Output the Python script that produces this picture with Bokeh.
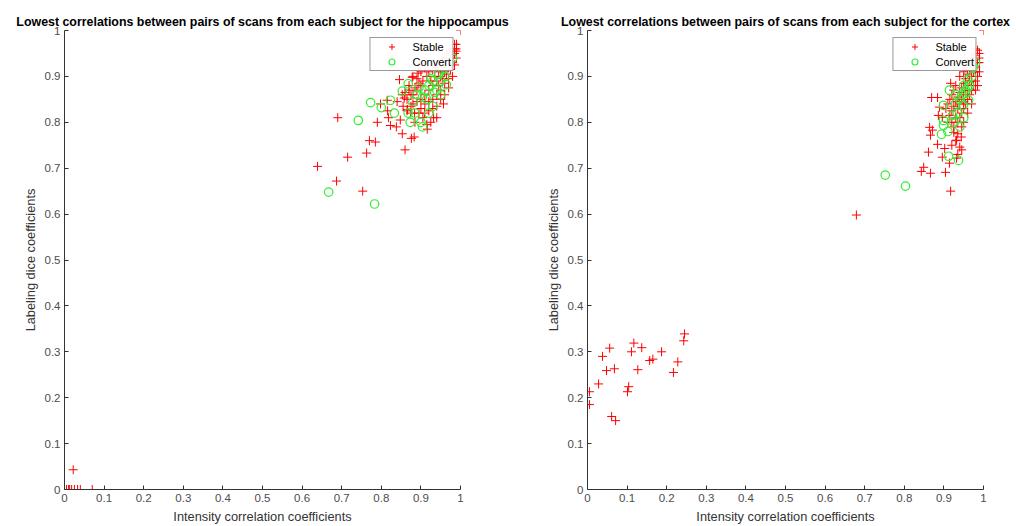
from bokeh.plotting import figure
from bokeh.layouts import row
from bokeh.models import Legend, LegendItem, NumeralTickFormatter, FixedTicker, Range1d
from bokeh.embed import file_html
from bokeh.resources import INLINE

ticks = [0, 0.1, 0.2, 0.3, 0.4, 0.5, 0.6, 0.7, 0.8, 0.9, 1.0]
titles = ["Lowest correlations between pairs of scans from each subject for the hippocampus",
          "Lowest correlations between pairs of scans from each subject for the cortex"]
x_label = "Intensity correlation coefficients"
y_label = "Labeling dice coefficients"
series_names = ["Stable", "Convert"]

hippo_stable_x = [1.0, 0.69, 0.639, 0.715, 0.763, 0.687, 0.753, 0.785, 0.77, 0.79, 0.86, 0.876, 0.883, 0.94, 0.957,
                  0.916, 0.932, 0.846, 0.823, 0.838, 0.848, 0.818, 0.816, 0.853, 0.874, 0.866, 0.884, 0.909, 0.84,
                  0.798, 0.815, 0.853, 0.858, 0.878, 0.893, 0.97, 0.98,
                  0.005, 0.01, 0.013, 0.018, 0.025, 0.033, 0.04, 0.07, 0.022,
                  0.87, 0.88, 0.89, 0.90, 0.91, 0.92, 0.93, 0.94, 0.95, 0.96, 0.97, 0.98, 0.985, 0.99, 0.98, 0.975,
                  0.965, 0.955, 0.945, 0.935, 0.925, 0.915, 0.905, 0.895, 0.885, 0.875, 0.865, 0.88, 0.89, 0.90,
                  0.91, 0.92, 0.93, 0.94, 0.95, 0.96, 0.97, 0.96, 0.95, 0.94, 0.93, 0.92, 0.90, 0.895, 0.885, 0.905,
                  0.925, 0.915, 0.945, 0.955, 0.965, 0.975, 0.985, 0.99, 0.98, 0.97, 0.96, 0.95, 0.94, 0.93, 0.92,
                  0.91, 0.90, 0.89, 0.88, 0.87, 0.86, 0.875, 0.865, 0.855, 0.985, 0.99, 0.975, 0.965, 0.955, 0.945,
                  0.935, 0.985, 0.99]
hippo_stable_y = [1.0, 0.81, 0.704, 0.724, 0.733, 0.672, 0.65, 0.757, 0.76, 0.80, 0.74, 0.765, 0.768, 0.81, 0.84,
                  0.785, 0.81, 0.893, 0.793, 0.79, 0.805, 0.81, 0.825, 0.775, 0.82, 0.828, 0.82, 0.82, 0.845,
                  0.84, 0.848, 0.86, 0.853, 0.898, 0.907, 0.875, 0.90,
                  0.0, 0.0, 0.0, 0.0, 0.0, 0.0, 0.0, 0.0, 0.043,
                  0.88, 0.86, 0.87, 0.88, 0.86, 0.87, 0.88, 0.89, 0.90, 0.91, 0.92, 0.93, 0.95, 0.96, 0.955, 0.94,
                  0.93, 0.92, 0.91, 0.90, 0.89, 0.90, 0.89, 0.885, 0.875, 0.86, 0.85, 0.84, 0.845, 0.85,
                  0.84, 0.845, 0.85, 0.86, 0.87, 0.885, 0.895, 0.86, 0.85, 0.835, 0.83, 0.825, 0.83, 0.82, 0.80, 0.81,
                  0.80, 0.795, 0.88, 0.895, 0.905, 0.915, 0.925, 0.94, 0.945, 0.935, 0.94, 0.93, 0.92, 0.915, 0.91,
                  0.92, 0.91, 0.895, 0.90, 0.87, 0.865, 0.835, 0.825, 0.835, 0.96, 0.955, 0.96, 0.95, 0.94, 0.93,
                  0.925, 0.97, 0.97]

hippo_convert_x = [0.667, 0.783, 0.742, 0.773, 0.80, 0.823, 0.833, 0.873, 0.904, 0.92, 0.868, 0.853, 0.868, 0.964,
                   0.904, 0.88, 0.89, 0.91, 0.92, 0.93, 0.94, 0.95, 0.96, 0.935, 0.925, 0.945, 0.955, 0.97, 0.98,
                   0.915, 0.895, 0.885, 0.90, 0.93, 0.95]
hippo_convert_y = [0.648, 0.622, 0.804, 0.843, 0.832, 0.848, 0.82, 0.80, 0.79, 0.82, 0.82, 0.868, 0.884, 0.882,
                   0.855, 0.845, 0.86, 0.87, 0.88, 0.89, 0.87, 0.89, 0.90, 0.865, 0.895, 0.905, 0.915, 0.93, 0.94,
                   0.85, 0.875, 0.82, 0.80, 0.835, 0.86]

cortex_stable_x = [0.245, 0.243, 0.228, 0.217, 0.187, 0.165, 0.157, 0.137, 0.117, 0.111, 0.127, 0.104, 0.101,
                   0.056, 0.038, 0.068, 0.048, 0.028, 0.005, 0.005, 0.061, 0.071,
                   1.0, 0.679, 0.917, 0.843, 0.849, 0.866, 0.904, 0.861, 0.896, 0.914, 0.932, 0.94, 0.932, 0.884,
                   0.902, 0.944, 0.925, 0.866, 0.871, 0.864, 0.886, 0.896, 0.889, 0.869, 0.884, 0.917, 0.985, 0.98,
                   0.92, 0.93, 0.935, 0.94, 0.945, 0.95, 0.955, 0.96, 0.965, 0.97, 0.975, 0.98, 0.985, 0.99, 0.99,
                   0.98, 0.975, 0.97, 0.965, 0.96, 0.955, 0.95, 0.945, 0.94, 0.935, 0.93, 0.925, 0.92, 0.915, 0.91,
                   0.925, 0.935, 0.945, 0.95, 0.955, 0.96, 0.965, 0.97, 0.975, 0.98, 0.985, 0.99, 0.975, 0.97, 0.96,
                   0.955, 0.95, 0.94, 0.93, 0.925, 0.92, 0.915, 0.91, 0.905, 0.93, 0.935, 0.945, 0.95, 0.96, 0.97,
                   0.98, 0.985, 0.94, 0.95, 0.96, 0.97, 0.98, 0.99, 0.945, 0.935, 0.92]
cortex_stable_y = [0.339, 0.324, 0.278, 0.255, 0.30, 0.284, 0.281, 0.309, 0.319, 0.30, 0.261, 0.224, 0.213,
                   0.308, 0.29, 0.263, 0.259, 0.23, 0.213, 0.185, 0.159, 0.15,
                   1.0, 0.598, 0.65, 0.693, 0.702, 0.689, 0.691, 0.735, 0.724, 0.711, 0.722, 0.746, 0.761, 0.752,
                   0.743, 0.768, 0.778, 0.772, 0.783, 0.789, 0.815, 0.811, 0.833, 0.854, 0.854, 0.885, 0.957, 0.945,
                   0.80, 0.81, 0.83, 0.84, 0.85, 0.86, 0.87, 0.88, 0.89, 0.90, 0.91, 0.92, 0.93, 0.94, 0.95,
                   0.96, 0.935, 0.925, 0.915, 0.905, 0.895, 0.885, 0.875, 0.865, 0.855, 0.845, 0.835, 0.825, 0.815, 0.80,
                   0.79, 0.80, 0.82, 0.83, 0.84, 0.85, 0.86, 0.87, 0.88, 0.89, 0.90, 0.91, 0.95, 0.94, 0.93,
                   0.92, 0.91, 0.90, 0.88, 0.87, 0.86, 0.85, 0.84, 0.83, 0.76, 0.775, 0.79, 0.80, 0.82, 0.84,
                   0.87, 0.88, 0.81, 0.845, 0.87, 0.89, 0.91, 0.93, 0.74, 0.73, 0.75]

cortex_convert_x = [0.752, 0.803, 0.912, 0.937, 0.894, 0.899, 0.899, 0.899, 0.914, 0.934, 0.922, 0.949, 0.962,
                    0.955, 0.95, 0.96, 0.98, 0.94, 0.945, 0.93, 0.955, 0.96, 0.97, 0.975, 0.94, 0.95, 0.925, 0.91,
                    0.965, 0.93]
cortex_convert_y = [0.685, 0.661, 0.726, 0.717, 0.774, 0.804, 0.793, 0.837, 0.87, 0.82, 0.815, 0.837, 0.848,
                    0.863, 0.88, 0.893, 0.93, 0.85, 0.86, 0.84, 0.87, 0.875, 0.90, 0.92, 0.79, 0.81, 0.80, 0.78,
                    0.88, 0.86]

FONT = "Liberation Sans"
AX = "#333333"


def make_plot(title, sx, sy, cx, cy, width, bl, br):
    p = figure(width=width, height=526, output_backend="svg", toolbar_location=None,
               x_range=Range1d(0, 1), y_range=Range1d(0, 1),
               min_border_left=bl, min_border_right=br, min_border_top=30, min_border_bottom=36)
    p.title.text = title
    p.title.align = "center"
    p.title.text_font = FONT
    p.title.text_font_size = "12.4px"
    p.title.text_font_style = "bold"
    p.title.text_color = "#000000"
    p.title.offset = 0
    p.title.standoff = 4
    p.outline_line_color = None
    p.grid.visible = False
    for ax in (p.xaxis[0], p.yaxis[0]):
        ax.ticker = FixedTicker(ticks=ticks)
        ax.formatter = NumeralTickFormatter(format="0.[0]")
        ax.major_tick_in = 4
        ax.major_tick_out = 0
        ax.minor_tick_line_color = None
        ax.axis_line_color = AX
        ax.major_tick_line_color = AX
        ax.major_label_text_color = "#4d4d4d"
        ax.major_label_text_font = FONT
        ax.major_label_text_font_size = "11.5px"
        ax.axis_label_text_font = FONT
        ax.axis_label_text_font_size = "12.8px"
        ax.axis_label_text_font_style = "normal"
        ax.axis_label_text_color = "#333333"
        ax.major_label_standoff = 4
        ax.axis_label_standoff = 4
    p.xaxis.axis_label = x_label
    p.yaxis.axis_label = y_label
    r1 = p.scatter(sx, sy, marker="cross", size=9, line_color="#ff0000", line_width=1)
    r2 = p.scatter(cx, cy, marker="circle", size=8.5, line_color="#33ee33", fill_color=None, line_width=1.2)
    legend = Legend(items=[LegendItem(label=series_names[0], renderers=[r1]),
                           LegendItem(label=series_names[1], renderers=[r2])],
                    location="top_right", border_line_color="#333333", border_line_width=1,
                    label_text_font=FONT, label_text_font_size="11px", label_text_color="#000000",
                    padding=1, spacing=0, margin=7,
                    glyph_height=15, glyph_width=40, label_height=15, label_standoff=1)
    p.add_layout(legend)
    return p


p1 = make_plot(titles[0], hippo_stable_x, hippo_stable_y, hippo_convert_x, hippo_convert_y, 531, 64, 71)
p2 = make_plot(titles[1], cortex_stable_x, cortex_stable_y, cortex_convert_x, cortex_convert_y, 485, 56, 33)
p = row(p1, p2)
open("out.html", "w").write(file_html(p, INLINE))
